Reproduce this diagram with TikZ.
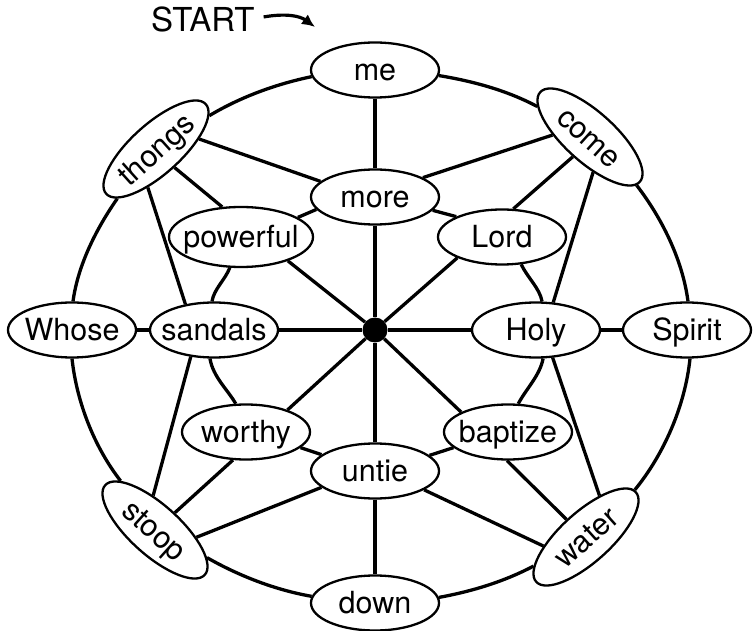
\documentclass[tikz,border=0pt]{standalone}
\usepackage{fontspec}
\setmainfont{TeX Gyre Heros}
\usetikzlibrary{arrows.meta,shapes.geometric}
\pgfdeclarelayer{bg}
\pgfsetlayers{bg,main}
\newcommand\wordtext[1]{\makebox[0pt]{#1}}
\begin{document}
\begin{tikzpicture}[x=1pt,y=-1pt,
  word/.style={ellipse,draw,line width=2.3pt,fill=white,minimum width=128pt,minimum height=55pt,inner sep=0pt,text height=21.8pt,text depth=0pt,font=\fontsize{30.5pt}{36pt}\selectfont},
  tilted/.style={word,minimum width=134pt,minimum height=50pt},
  link/.style={line width=3.3pt},
  starrow/.style={line width=3.2pt,-{Latex[length=13pt,width=12pt]}}
]
\useasboundingbox (0,0) rectangle (753,631);

% title and arrow
\node[inner sep=0pt,anchor=base west,font=\fontsize{33pt}{38pt}\selectfont] (start) at (151,32) {START};
\coordinate (arrowtip) at (315,27);

% outer ring
\node[word] (me) at (375,70) {\wordtext{me}};
\node[tilted,rotate=-42] (come) at (590,137) {\wordtext{come}};
\node[word] (Spirit) at (687,330) {\wordtext{Spirit}};
\node[tilted,rotate=42] (water) at (586,537) {\wordtext{water}};
\node[word] (down) at (375,603) {\wordtext{down}};
\node[tilted,rotate=-42] (stoop) at (155,530) {\wordtext{stoop}};
\node[word] (Whose) at (72,330) {\wordtext{Whose}};
\node[tilted,rotate=42] (thongs) at (156,149) {\wordtext{thongs}};

% inner ring
\node[word] (more) at (375,197) {\wordtext{more}};
\node[word,minimum width=144pt,minimum height=60pt] (powerful) at (241,237) {\wordtext{powerful}};
\node[word] (Lord) at (502,237) {\wordtext{Lord}};
\node[word] (sandals) at (214,330) {\wordtext{sandals}};
\node[word] (Holy) at (536,330) {\wordtext{Holy}};
\node[word] (worthy) at (246,432) {\wordtext{worthy}};
\node[word] (baptize) at (508,432) {\wordtext{baptize}};
\node[word] (untie) at (375,471) {\wordtext{untie}};

% hub
\node[circle,fill=black,inner sep=0pt,minimum size=25pt] (ctr) at (375,330) {};

\begin{pgfonlayer}{bg}
\draw[starrow] ([xshift=9pt,yshift=3pt]start.east) .. controls (286,13) and (300,16) .. (arrowtip);

% spokes
\draw[link] (ctr) -- (more);
\draw[link] (ctr) -- (untie);
\draw[link] (ctr) -- (sandals);
\draw[link] (ctr) -- (Holy);
\draw[link] (ctr) -- (powerful.333);
\draw[link] (ctr) -- (Lord.205);
\draw[link] (ctr) -- (worthy.28);
\draw[link] (ctr) -- (baptize.157);

\draw[link] (me) -- (more);
\draw[link] (untie) -- (down);
\draw[link] (Whose) -- (sandals);
\draw[link] (Holy) -- (Spirit);

% diagonal fans
\draw[link] (thongs.331) -- (more.164);
\draw[link] (thongs.273) -- (powerful.122);
\draw[link] (thongs.216) -- (sandals.138);
\draw[link] (come.219) -- (more.22);
\draw[link] (come.271) -- (Lord.68);
\draw[link] (come.317) -- (Holy.58);
\draw[link] (water.30) -- (Holy.301);
\draw[link] (water.96) -- (baptize.268);
\draw[link] (water.150) -- (untie.339);
\draw[link] (stoop.32) -- (untie.197);
\draw[link] (stoop.83) -- (worthy.245);
\draw[link] (stoop.135) -- (sandals.229);

% inner ring links
\draw[link] (more.192) -- (powerful.19);
\draw[link] (more.347) -- (Lord.156);
\draw[link] (worthy.344) -- (untie.163);
\draw[link] (baptize.196) -- (untie.16);
\draw[link] (powerful.250) .. controls (225,280) and (214,289) .. (sandals.94);
\draw[link] (sandals.262) .. controls (213,377) and (228,390) .. (worthy.110);
\draw[link] (Holy.284) .. controls (540,375.5) and (526,389) .. (baptize.70);
\draw[link] (Lord.305) .. controls (527.6,277.8) and (539.7,288.2) .. (Holy.78);

% outer ring links
\draw[link] (me.186) .. controls (276.7,83.9) and (241,96.7) .. (thongs.350);
\draw[link] (thongs.190) .. controls (97.6,226.9) and (78.2,263.4) .. (Whose.88);
\draw[link] (Whose.270) .. controls (76.8,402.7) and (94.5,447.3) .. (stoop.167);
\draw[link] (stoop.14) .. controls (240.3,576.6) and (276.3,590.1) .. (down.174);
\draw[link] (down.5) .. controls (472.1,591.3) and (503.9,581.7) .. (water.167);
\draw[link] (water.2) .. controls (663.7,454.5) and (685,406.3) .. (Spirit.276);
\draw[link] (Spirit.88) .. controls (682.4,259) and (661.4,217.5) .. (come.356);
\draw[link] (come.192) .. controls (507.2,90.4) and (472.5,81.1) .. (me.355);
\end{pgfonlayer}
\end{tikzpicture}
\end{document}
